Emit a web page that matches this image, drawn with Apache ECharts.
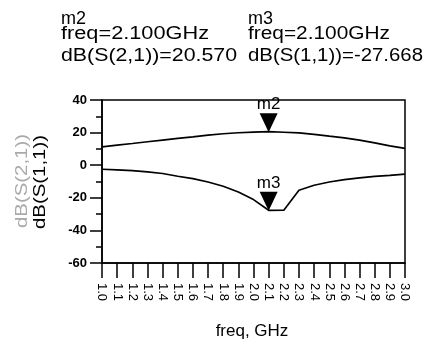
<!DOCTYPE html>
<html>
<head>
<meta charset="utf-8">
<script src="https://cdn.jsdelivr.net/npm/echarts@6/dist/echarts.min.js"></script>
<style>
  html, body { margin: 0; padding: 0; background: #fff; }
  #chart { width: 435px; height: 345px; }
</style>
</head>
<body>
<div id="chart"></div>
<script>
// frequency points (GHz), 0.1 step
const freqs = ['1.0','1.1','1.2','1.3','1.4','1.5','1.6','1.7','1.8','1.9','2.0',
               '2.1','2.2','2.3','2.4','2.5','2.6','2.7','2.8','2.9','3.0'];
// dB(S(2,1))
const s21 = [11.3, 12.3, 13.3, 14.4, 15.4, 16.4, 17.4, 18.5, 19.3, 19.9, 20.3,
             20.57, 20.2, 19.8, 18.9, 17.8, 16.8, 15.4, 13.7, 11.9, 10.3];
// dB(S(1,1))
const s11 = [-2.5, -2.9, -3.3, -4.1, -5.1, -6.8, -8.2, -10.3, -12.9, -16.4, -21.1,
             -27.668, -27.6, -15.4, -12.3, -10.3, -8.8, -7.8, -6.8, -6.2, -5.5];
const yTicks = [-60, -40, -20, 0, 20, 40];

const font = 'Liberation Sans, Arial, sans-serif';
const hdrFont = '18px ' + font;

// the scanned readout text is stretched sideways, so fit each line to its width
const ctx = document.createElement('canvas').getContext('2d');
const fit = (text, f, width) => {
	ctx.font = f;
	return width / ctx.measureText(text).width;
};

const hdr = (text, x, y, width) => ({
	type: 'text', x: x, y: y,
	scaleX: width ? fit(text, hdrFont, width) : 1,
	style: { text: text, font: hdrFont, fill: '#000', verticalAlign: 'middle' }
});

const marker = (name, x, y) => ({
	symbol: 'triangle',
	symbolRotate: 180,
	symbolSize: [18, 19],
	symbolOffset: [0, -9],
	itemStyle: { color: '#000' },
	label: {
		show: true, position: 'top', distance: 0,
		color: '#000', fontFamily: font, fontSize: 17,
		formatter: name
	},
	data: [{ coord: [x, y] }]
});

const chart = echarts.init(document.getElementById('chart'));
const option = {
	animation: false,
	backgroundColor: '#fff',
	grid: { left: 102, right: 30, top: 100, bottom: 82, show: true, borderColor: '#000', borderWidth: 1.5 },
	xAxis: {
		type: 'category',
		data: freqs,
		boundaryGap: false,
		axisLine: { onZero: false, lineStyle: { color: '#000', width: 1.5 } },
		axisTick: { length: 15, lineStyle: { color: '#000', width: 1.5 } },
		axisLabel: { rotate: -90, margin: 20, color: '#000', fontFamily: font, fontSize: 13, interval: 0 },
		splitLine: { show: false }
	},
	yAxis: {
		type: 'value',
		min: yTicks[0],
		max: yTicks[yTicks.length - 1],
		interval: 20,
		axisLine: { show: true, lineStyle: { color: '#000', width: 1.5 } },
		axisTick: { show: true, length: 12, lineStyle: { color: '#000', width: 1.5 } },
		minorTick: { show: true, splitNumber: 2, length: 6, lineStyle: { color: '#000', width: 1.5 } },
		axisLabel: { margin: 15, color: '#000', fontFamily: font, fontSize: 13, fontWeight: 'bold' },
		splitLine: { show: false }
	},
	series: [
		{
			name: 'dB(S(2,1))', type: 'line', data: s21, showSymbol: false,
			lineStyle: { color: '#000', width: 1.7 },
			markPoint: marker('m2', '2.1', s21[11])
		},
		{
			name: 'dB(S(1,1))', type: 'line', data: s11, showSymbol: false,
			lineStyle: { color: '#000', width: 1.7 },
			markPoint: marker('m3', '2.1', s11[11])
		}
	],
	graphic: [
		// marker readouts
		hdr('m2', 61, 19, 0),
		hdr('freq=2.100GHz', 61, 34, 148),
		hdr('dB(S(2,1))=20.570', 61, 56, 176),
		hdr('m3', 248, 19, 0),
		hdr('freq=2.100GHz', 248, 34, 142),
		hdr('dB(S(1,1))=-27.668', 248, 56, 175),
		// axis titles
		{ type: 'text', x: 22, y: 181, rotation: Math.PI / 2, scaleX: 1.2,
		  style: { text: 'dB(S(2,1))', font: '17px ' + font, fill: '#aaa', align: 'center', verticalAlign: 'middle' } },
		{ type: 'text', x: 40, y: 182, rotation: Math.PI / 2, scaleX: 1.2,
		  style: { text: 'dB(S(1,1))', font: '17px ' + font, fill: '#000', align: 'center', verticalAlign: 'middle' } },
		{ type: 'text', x: 252, y: 331, style: { text: 'freq, GHz', font: '17px ' + font, fill: '#000', align: 'center', verticalAlign: 'middle' } }
	]
};
chart.setOption(option);
</script>
</body>
</html>
